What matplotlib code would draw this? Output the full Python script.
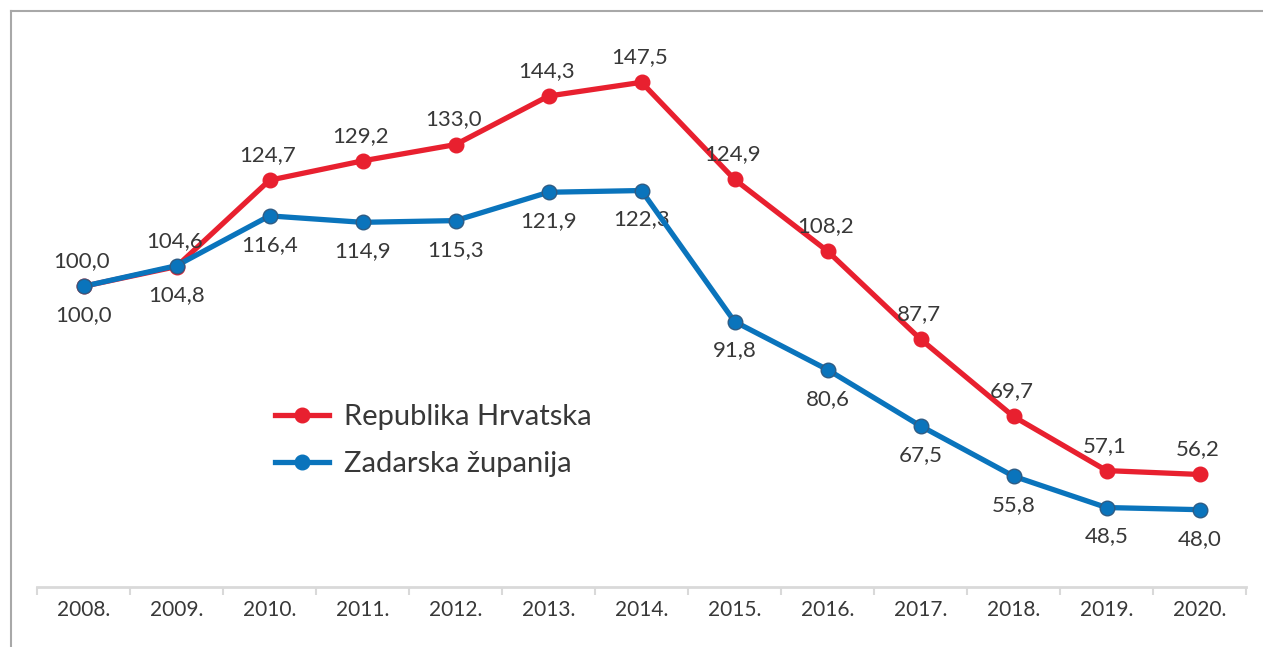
import matplotlib
matplotlib.use("Agg")
import matplotlib.pyplot as plt
from matplotlib.lines import Line2D

years = ["2008.", "2009.", "2010.", "2011.", "2012.", "2013.", "2014.",
         "2015.", "2016.", "2017.", "2018.", "2019.", "2020."]
hrvatska = [100.0, 104.6, 124.7, 129.2, 133.0, 144.3, 147.5, 124.9, 108.2, 87.7, 69.7, 57.1, 56.2]
zadarska = [100.0, 104.8, 116.4, 114.9, 115.3, 121.9, 122.3, 91.8, 80.6, 67.5, 55.8, 48.5, 48.0]
series_names = ["Republika Hrvatska", "Zadarska županija"]

plt.rcParams['font.family'] = ['Lato', 'DejaVu Sans']
RED = "#E8202F"
BLUE = "#0A74BC"
TXT = "#383838"

W, H = 1263, 647
fig = plt.figure(figsize=(W / 100, H / 100), dpi=100)
ax = fig.add_axes([37 / W, 60 / H, (1246 - 37) / W, (587 - 28.6) / H])

x = list(range(len(years)))
ax.plot(x, hrvatska, color=RED, lw=3.8, marker="o", ms=10.5,
        mfc=RED, mec=RED, mew=1, zorder=3, solid_capstyle="round")
ax.plot(x, zadarska, color=BLUE, lw=3.8, marker="o", ms=10.5,
        mfc=BLUE, mec="#2E5C85", mew=1, zorder=4, solid_capstyle="round")

def fmt(v):
    return f"{v:.1f}".replace(".", ",")

for i, v in enumerate(hrvatska):
    ax.annotate(fmt(v), (i, v), xytext=(-2, 25), textcoords="offset pixels",
                ha="center", va="center", fontsize=16, color=TXT)
for i, v in enumerate(zadarska):
    ax.annotate(fmt(v), (i, v), xytext=(0, -29), textcoords="offset pixels",
                ha="center", va="center", fontsize=16, color=TXT)

ax.set_xlim(-0.5, len(years) - 0.5)
ax.set_ylim(30, 160)
ax.set_yticks([])
ax.set_xticks(x)
ax.set_xticklabels(years, fontsize=15, color=TXT)
ax.tick_params(axis="x", which="major", length=0, pad=9)
ax.set_xticks([i - 0.5 for i in range(len(years) + 1)], minor=True)
ax.tick_params(axis="x", which="minor", length=6, width=1.5, color="#D9D9D9", direction="out")
for s in ["top", "right", "left"]:
    ax.spines[s].set_visible(False)
ax.spines["bottom"].set_color("#D9D9D9")
ax.spines["bottom"].set_linewidth(2)
ax.patch.set_alpha(0)

handles = [Line2D([], [], color=RED, lw=3.8, marker="o", ms=10.5, mfc=RED, mec=RED),
           Line2D([], [], color=BLUE, lw=3.8, marker="o", ms=10.5, mfc=BLUE, mec=BLUE)]
leg = fig.legend(handles, series_names, loc="upper left",
                 bbox_to_anchor=(275 / W, 1 - 404 / H), frameon=False,
                 fontsize=21, handlelength=1.85, handletextpad=0.5, labelspacing=0.72,
                 borderpad=0, borderaxespad=0)
for t in leg.get_texts():
    t.set_color(TXT)

# figure border (top and left)
border_color = "#A8A8A8"
fig.add_artist(Line2D([11 / W, 1], [1 - 11 / H, 1 - 11 / H], color=border_color, lw=1.5,
                      transform=fig.transFigure))
fig.add_artist(Line2D([11 / W, 11 / W], [0, 1 - 11 / H], color=border_color, lw=1.5,
                      transform=fig.transFigure))

fig.savefig("out.png", dpi=100, facecolor="white")
